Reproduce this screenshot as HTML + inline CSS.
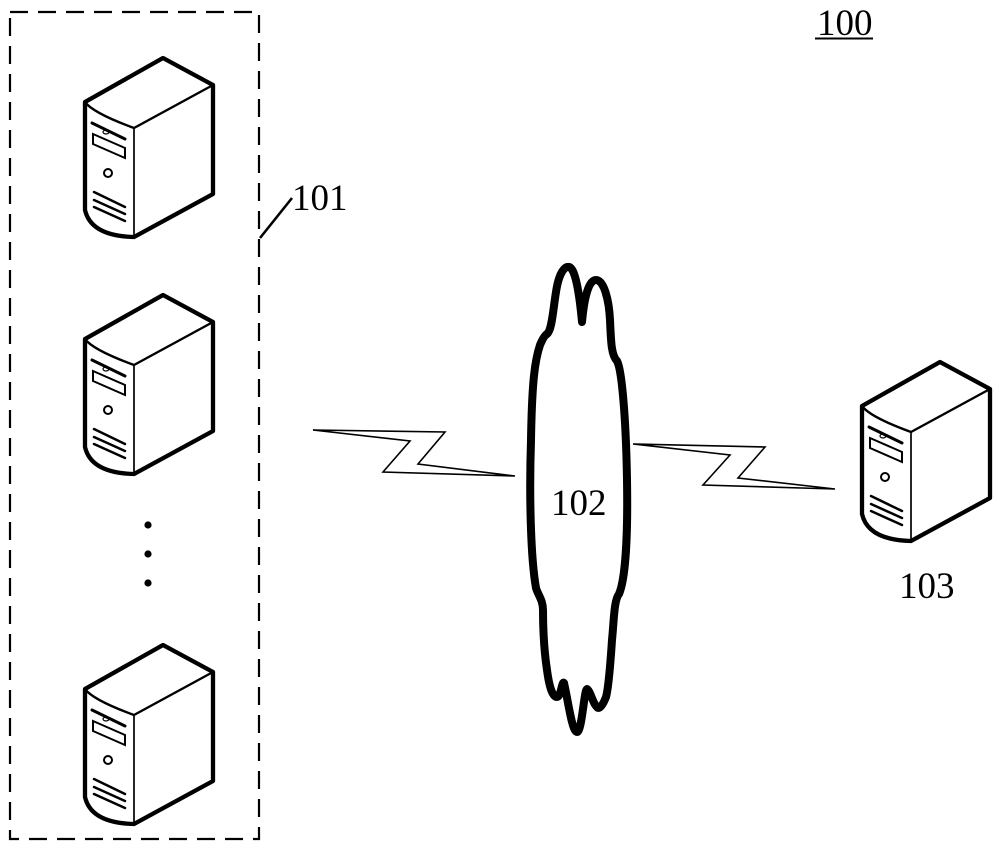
<!DOCTYPE html>
<html>
<head>
<meta charset="utf-8">
<style>
  html, body { margin: 0; padding: 0; background: #fff; }
  body { width: 1000px; height: 850px; overflow: hidden; }
  svg { display: block; }
  text { font-family: "Liberation Serif", "DejaVu Serif", serif; fill: #000; }
</style>
</head>
<body>
<svg width="1000" height="850" viewBox="0 0 1000 850" xmlns="http://www.w3.org/2000/svg">
  <defs>
    <g id="srv">
      <!-- body outline -->
      <path d="M85,102 L163,58 L213,85 L213,194 L134,237 Q91,236 85,210 Z" fill="#fff" stroke="#000" stroke-width="4.3" stroke-linejoin="round"/>
      <!-- inner edges -->
      <path d="M85,102 Q93,113 134,128 L213,85" fill="none" stroke="#000" stroke-width="2.4" stroke-linejoin="round"/>
      <path d="M134,128 L134,237" fill="none" stroke="#000" stroke-width="1.7"/>
      <!-- slot line -->
      <path d="M92,123 L125,139" stroke="#000" stroke-width="3" stroke-linecap="round"/>
      <ellipse cx="106" cy="132" rx="3" ry="2" fill="none" stroke="#000" stroke-width="1.2"/>
      <!-- drive bay -->
      <path d="M93,134 L125,148 L125,158 L93,144 Z" fill="none" stroke="#000" stroke-width="2"/>
      <!-- power button -->
      <circle cx="108" cy="173" r="4" fill="none" stroke="#000" stroke-width="2"/>
      <!-- vents -->
      <path d="M94,192 L125,207 M94,200 L125,214 M94,207 L125,221" stroke="#000" stroke-width="2.5" stroke-linecap="round"/>
    </g>
  </defs>

  <!-- dashed group box -->
  <rect x="10" y="12" width="249" height="827" fill="none" stroke="#000" stroke-width="2.2" stroke-dasharray="18 10"/>

  <!-- servers in group -->
  <use href="#srv"/>
  <use href="#srv" transform="translate(0,237)"/>
  <use href="#srv" transform="translate(0,587)"/>

  <!-- dots -->
  <circle cx="148" cy="525" r="3.6" fill="#000"/>
  <circle cx="148" cy="554" r="3.6" fill="#000"/>
  <circle cx="148" cy="583" r="3.6" fill="#000"/>

  <!-- 101 label -->
  <line x1="260" y1="238" x2="292" y2="198" stroke="#000" stroke-width="2.6"/>
  <text x="292" y="210" font-size="37">101</text>

  <!-- 100 label -->
  <text x="817" y="35" font-size="37">100</text>
  <line x1="815" y1="38.5" x2="873" y2="38.5" stroke="#000" stroke-width="2"/>

  <!-- zigzag left -->
  <polygon points="313,430 445,432 418,464 515,476 383,472 410,441" fill="#fff" stroke="#000" stroke-width="1.6" stroke-linejoin="miter"/>
  <!-- zigzag right -->
  <polygon points="633,444 765,447 738,478 835,489 703,485 730,455" fill="#fff" stroke="#000" stroke-width="1.6" stroke-linejoin="miter"/>

  <!-- cloud 102 -->
  <path d="M547,334
           C552,330 553,310 556,292
           C559,272 565,266 569,267
           C576,268 580,300 582,322
           C584,300 588,280 596,280
           C604,280 609,300 610,320
           C611,340 611,355 617,361
           C622,370 626,420 627,480
           C628,540 625,580 619,594
           C614,600 614,620 612,640
           C610,670 608,690 606,697
           C603,705 599,710 597,707
           C593,704 590,690 587,689
           C584,690 582,732 577,732
           C572,732 568,700 564,683
           C562,680 561,697 557,697
           C552,697 549,685 547,670
           C544,650 543,630 543,610
           C543,600 538,595 536,588
           C531,560 529,500 531,440
           C532,380 535,360 540,345
           C543,338 545,335 547,334 Z"
        fill="#fff" stroke="#000" stroke-width="8" stroke-linejoin="round"/>
  <text x="551" y="515" font-size="37">102</text>

  <!-- server 103 -->
  <use href="#srv" transform="translate(777,304)"/>
  <text x="899" y="598" font-size="37">103</text>
</svg>
</body>
</html>
